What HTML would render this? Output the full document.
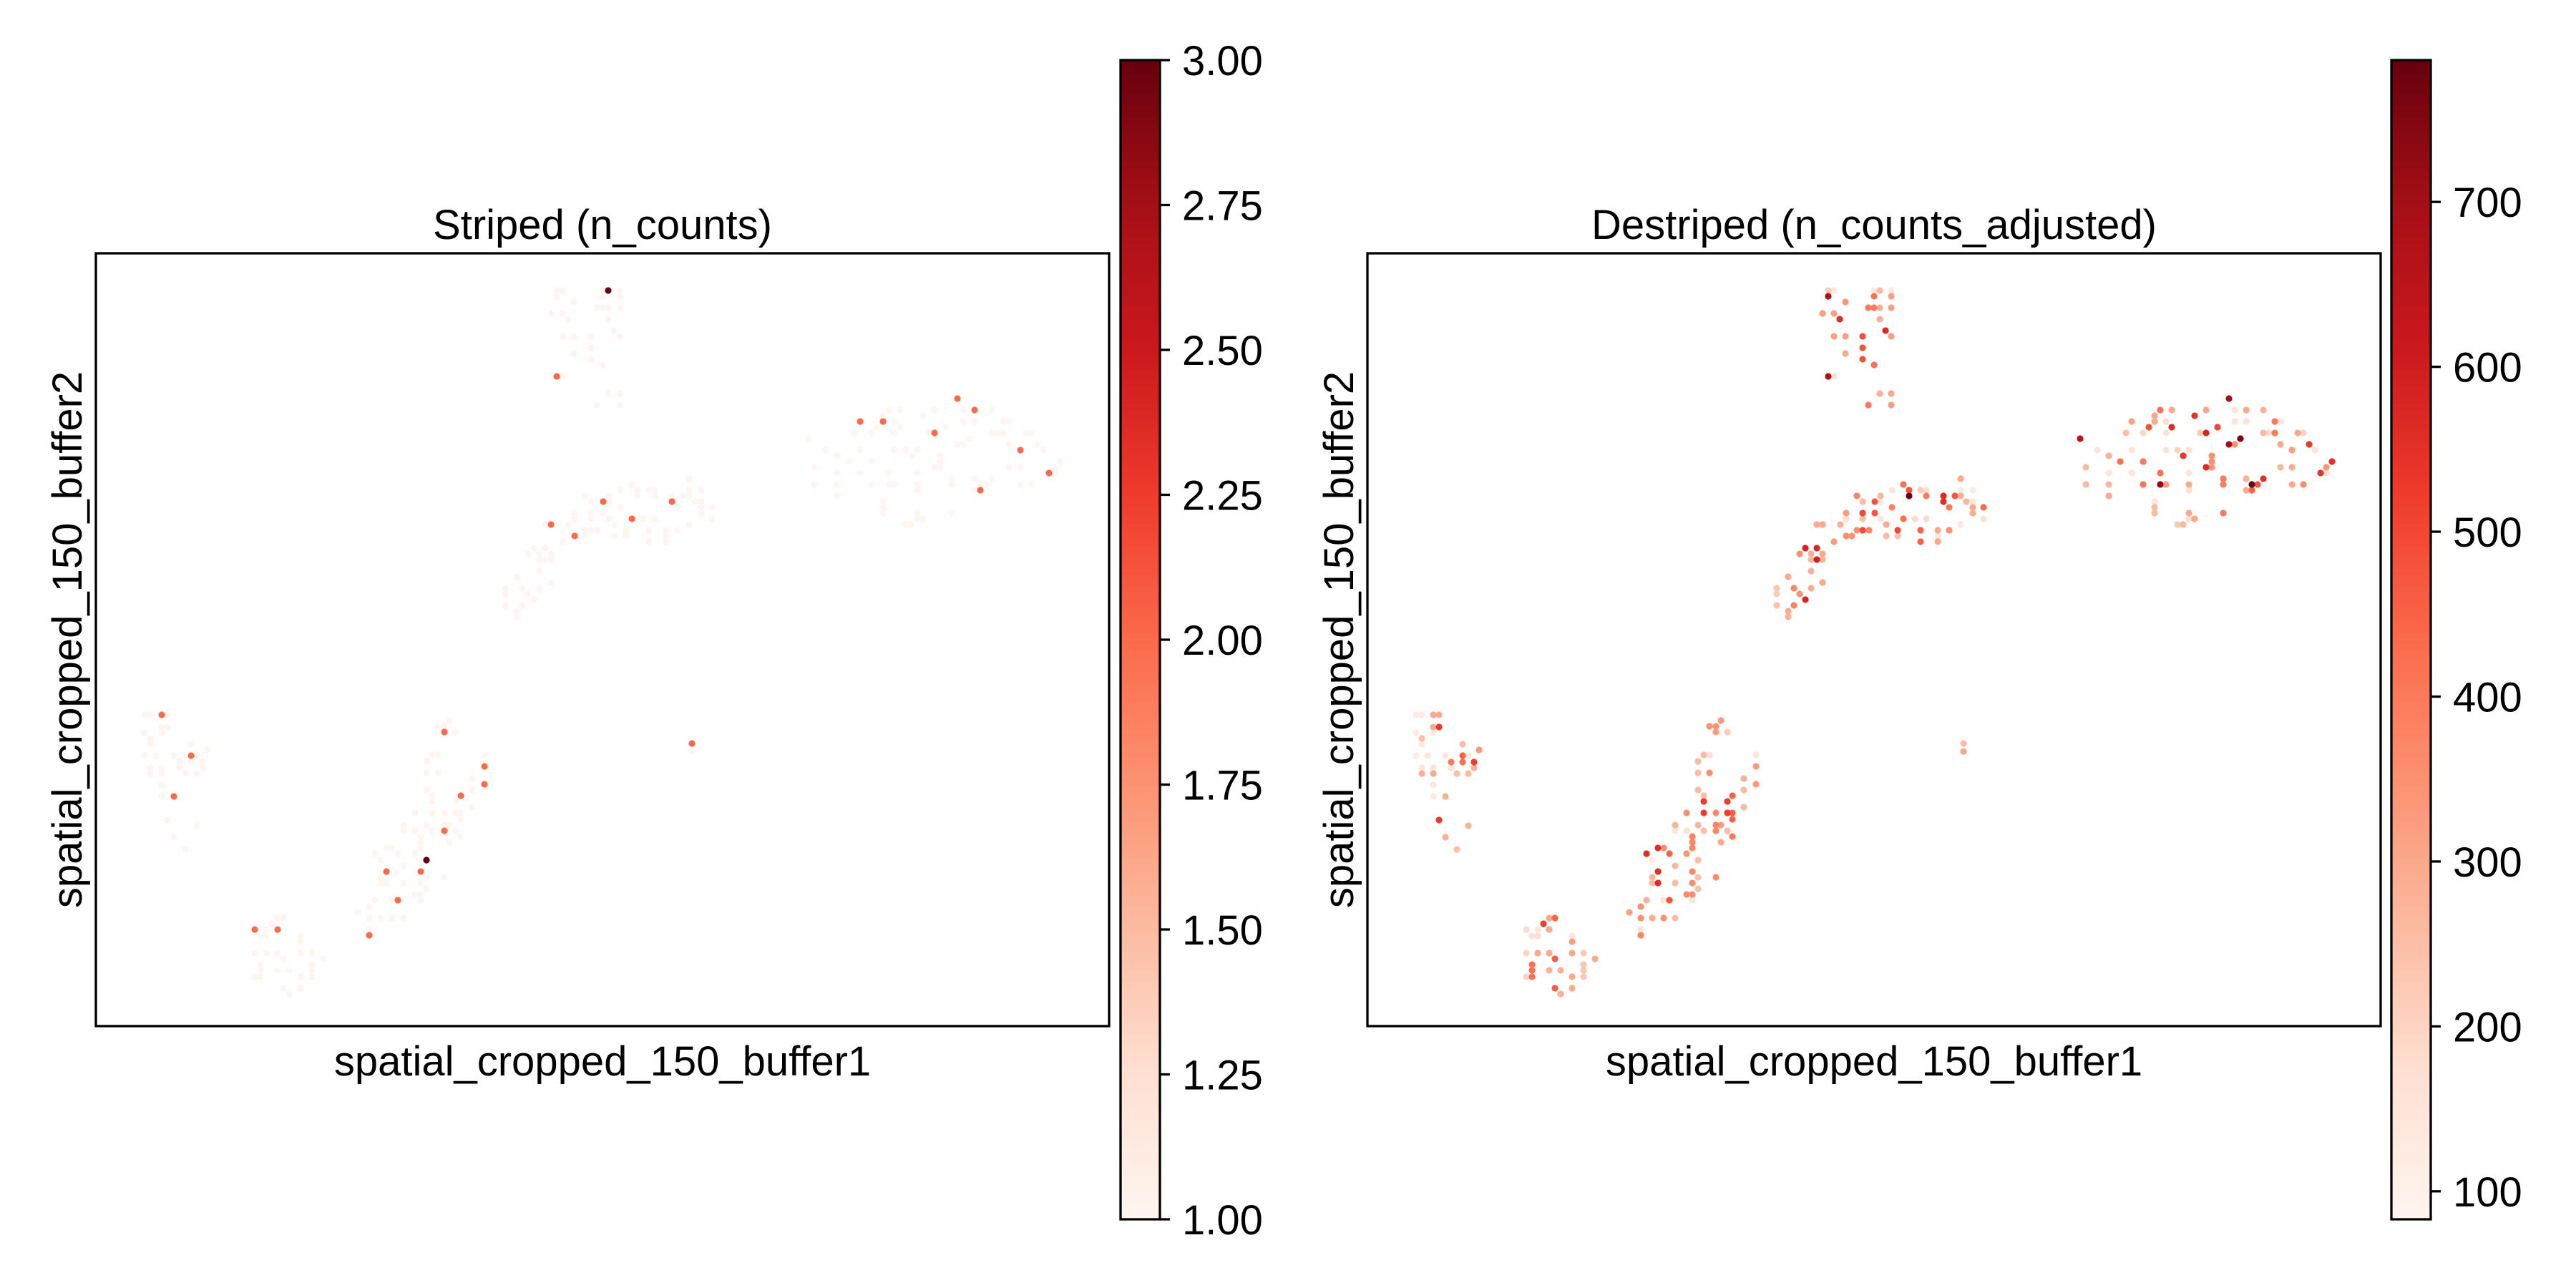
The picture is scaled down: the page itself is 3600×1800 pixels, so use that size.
<!DOCTYPE html>
<html><head><meta charset="utf-8">
<style>
html,body{margin:0;padding:0;background:#fff;}
svg{display:block;font-family:"Liberation Sans",Arial,sans-serif;}
</style></head>
<body>
<svg id="fig" width="3600" height="1800" viewBox="0 0 3600 1800" xmlns="http://www.w3.org/2000/svg">
<defs>
<linearGradient id="reds" x1="0" y1="1" x2="0" y2="0">
<stop offset="0" stop-color="#fff5f0"/><stop offset="0.125" stop-color="#fee0d2"/><stop offset="0.25" stop-color="#fcbba1"/><stop offset="0.375" stop-color="#fc9272"/><stop offset="0.5" stop-color="#fb6a4a"/><stop offset="0.625" stop-color="#ef3b2c"/><stop offset="0.75" stop-color="#cb181d"/><stop offset="0.875" stop-color="#a50f15"/><stop offset="1" stop-color="#67000d"/>
</linearGradient>
</defs>
<g id="left-panel"></g>
<g id="right-panel"></g>
</svg>
<script>
// spot tuples: [x, y, n_counts_adjusted, n_counts]
const clusterA = [[67,442,130,1],[75,442,130,1],[91,442,300,2],[99,442,300,1],[91,425,300,1],[99,425,530,1],[67,417,130,1],[91,417,130,1],[75,409,250,1],[75,401,130,1],[132,401,250,1],[155,393,330,1],[67,385,130,1],[83,385,150,1],[108,385,140,1],[132,385,450,2],[140,385,140,1],[116,376,400,1],[132,376,420,1],[148,376,520,1],[75,368,150,1],[91,368,150,1],[116,368,160,1],[148,368,280,1],[75,360,280,1],[91,360,300,1],[124,360,250,1],[140,360,260,1],[91,344,140,1],[91,328,130,1],[108,328,280,2],[99,295,530,1],[140,287,270,1],[108,271,280,1],[124,254,250,1]];
const clusterB = [[253,158,300,1],[261,158,450,1],[245,150,520,1],[221,142,180,2],[237,142,150,1],[253,142,300,2],[229,133,170,1],[237,133,170,1],[285,133,150,1],[285,125,320,1],[221,109,200,1],[237,109,300,1],[253,109,300,1],[285,109,300,1],[301,109,220,1],[317,101,290,1],[261,101,460,1],[229,93,420,1],[301,93,230,1],[229,85,420,1],[253,85,280,1],[269,85,280,1],[301,85,230,1],[221,76,200,1],[229,76,420,1],[285,76,300,1],[301,76,230,1],[261,60,460,1],[285,60,300,1],[269,52,280,1]];
const clusterC = [[493,434,330,1],[477,426,340,1],[486,426,340,1],[486,418,330,2],[502,418,220,1],[469,386,260,1],[477,386,170,1],[542,386,150,1],[461,377,260,1],[542,370,330,2],[461,361,260,1],[477,361,350,1],[525,353,280,1],[542,345,330,2],[461,337,260,1],[525,337,260,1],[469,329,250,1],[509,329,450,2],[469,321,520,1],[502,321,520,1],[525,313,260,1],[445,305,350,1],[469,305,520,1],[486,305,370,1],[502,305,520,1],[509,305,450,1],[509,296,450,1],[429,288,270,1],[461,288,270,1],[486,288,380,1],[493,288,320,1],[429,280,150,1],[445,280,160,1],[469,280,250,1],[486,280,370,2],[502,280,250,1],[453,272,380,1],[509,272,400,1],[453,264,370,1],[493,264,300,1],[405,256,560,1],[413,256,360,1],[453,256,370,1],[389,248,560,1],[421,248,450,1],[445,248,340,1],[397,239,120,1],[461,239,250,3],[429,231,260,1],[405,223,550,2],[453,223,370,2],[397,215,270,1],[461,215,250,1],[486,215,360,1],[397,207,260,1],[405,207,560,1],[429,207,250,1],[453,207,360,1],[461,199,250,1],[445,191,360,1],[453,191,360,1],[389,183,280,1],[413,183,160,1],[421,183,480,2],[453,183,150,1],[381,174,350,1],[365,166,310,1],[381,158,350,1],[397,158,290,1],[413,158,350,1],[429,158,250,1],[381,142,160,1],[381,134,370,2]];
const clusterD = [[643,1035,220,1],[651,1035,140,1],[707,1035,140,1],[715,1035,260,3],[731,1035,130,1],[643,1027,680,1],[707,1027,420,1],[731,1027,320,1],[667,1019,330,1],[699,1011,400,1],[707,1011,400,1],[715,1011,290,1],[731,1011,320,1],[635,1003,320,1],[651,1003,320,1],[659,995,560,1],[715,995,280,1],[723,979,570,1],[651,971,320,1],[667,971,320,1],[691,971,480,1],[731,971,320,1],[691,955,480,1],[667,947,300,1],[691,939,480,1],[707,931,420,1],[643,915,680,2],[651,915,150,1],[715,891,280,1],[731,891,300,1],[699,875,400,1],[731,875,320,1]];
const clusterE = [[828,772,300,1],[748,764,420,1],[732,756,150,1],[756,756,480,1],[772,756,220,1],[780,756,170,1],[828,756,130,1],[845,756,130,1],[683,748,380,1],[716,748,270,1],[756,748,780,1],[780,748,400,1],[804,748,560,1],[820,748,470,1],[828,748,280,1],[691,740,260,1],[708,740,480,2],[716,740,140,1],[804,740,560,2],[836,740,270,1],[845,740,150,1],[732,732,380,1],[812,732,400,1],[845,732,300,1],[860,732,430,1],[668,724,320,1],[691,724,500,1],[708,724,470,1],[845,724,290,1],[668,716,170,1],[691,716,250,1],[716,716,140,1],[748,716,420,2],[764,716,180,1],[780,716,180,1],[860,716,170,1],[627,708,300,1],[635,708,300,2],[660,708,280,1],[724,708,290,1],[828,708,140,1],[683,700,350,1],[691,700,490,1],[700,700,380,1],[740,700,500,1],[772,700,450,1],[796,700,300,1],[812,700,350,1],[668,692,350,2],[676,692,350,1],[724,692,260,1],[740,692,240,1],[796,692,150,1],[651,684,330,1],[772,684,450,1],[796,684,300,1],[611,675,580,1],[627,675,580,1],[603,667,350,1],[619,667,280,1],[635,667,300,1],[619,659,270,1],[627,659,590,1],[635,659,280,1],[619,643,280,1],[587,635,300,1],[635,627,300,1],[571,619,230,1],[595,619,370,1],[619,619,290,1],[571,611,220,1],[603,611,340,1],[611,603,580,1],[571,595,240,1],[595,595,380,1],[587,587,290,1],[587,579,280,1]];
const clusterF = [[1203,884,690,2],[1107,868,420,1],[1123,868,300,1],[1171,868,300,1],[1211,868,160,1],[1227,868,300,2],[1251,868,280,1],[1099,860,300,1],[1155,860,540,1],[1067,852,310,2],[1099,852,300,2],[1115,852,170,1],[1211,852,160,1],[1227,852,160,1],[1267,852,400,1],[1275,852,150,1],[1091,844,480,1],[1123,844,560,1],[1187,844,500,1],[1059,836,250,1],[1083,836,190,1],[1115,836,160,1],[1163,836,230,1],[1171,836,580,2],[1251,836,260,1],[1259,836,180,1],[1267,836,400,1],[1299,836,300,1],[1307,836,200,1],[995,828,640,1],[1219,828,760,1],[1203,820,700,1],[1211,820,350,1],[1275,820,300,1],[1315,820,530,1],[1019,812,150,1],[1067,812,150,1],[1115,812,160,1],[1131,812,200,1],[1147,812,160,1],[1291,812,320,2],[1323,812,160,1],[1035,804,280,1],[1139,804,530,1],[1179,804,350,1],[1051,796,420,1],[1083,796,400,1],[1179,796,350,1],[1347,796,550,1],[1003,788,260,1],[1171,788,560,1],[1179,788,340,1],[1275,788,270,1],[1291,788,300,1],[1339,788,340,1],[1035,780,150,1],[1067,780,150,1],[1107,780,420,1],[1147,780,150,1],[1331,780,540,2],[1339,780,170,1],[1195,772,400,1],[1227,772,280,1],[1251,772,550,1],[1003,764,260,1],[1035,764,270,1],[1083,764,410,1],[1107,764,720,1],[1115,764,320,1],[1147,764,290,1],[1195,764,400,1],[1235,764,780,1],[1243,764,480,1],[1291,764,300,1],[1307,764,360,1],[1147,756,170,1],[1227,756,290,1],[1235,756,450,2],[1035,748,300,1],[1099,740,150,1],[1099,732,260,1],[1099,724,260,1],[1147,724,300,1],[1195,724,400,1],[1147,716,180,1],[1155,716,300,1],[1131,708,230,1],[1139,708,260,1]];
const clusterG = [[832,402,250,2],[832,391,300,1]];
const leftTicks = [1.00,1.25,1.50,1.75,2.00,2.25,2.50,2.75,3.00];
const leftTickLabels = ["1.00","1.25","1.50","1.75","2.00","2.25","2.50","2.75","3.00"];
const rightTicks = [100,200,300,400,500,600,700];
const rightTickLabels = ["100","200","300","400","500","600","700"];
const leftRange = [1,3];
const rightRange = [83,786];
const xDomain = [-1,1415];
const yDomain = [7,1087];

const NS='http://www.w3.org/2000/svg';
const stops=['#fff5f0','#fee0d2','#fcbba1','#fc9272','#fb6a4a','#ef3b2c','#cb181d','#a50f15','#67000d'];
function hex(h){return [parseInt(h.substr(1,2),16),parseInt(h.substr(3,2),16),parseInt(h.substr(5,2),16)];}
function reds(t){t=Math.max(0,Math.min(1,t));const s=t*8;const i=Math.min(7,Math.floor(s));const f=s-i;const a=hex(stops[i]),b=hex(stops[i+1]);
 return 'rgb('+a.map((v,k)=>Math.round(v+(b[k]-v)*f)).join(',')+')';}
function mk(tag,attrs,parent){const e=document.createElementNS(NS,tag);for(const k in attrs)e.setAttribute(k,attrs[k]);parent.appendChild(e);return e;}
const spots=[].concat(clusterA,clusterB,clusterC,clusterD,clusterE,clusterF,clusterG);

function panel(gid,ax,title,valIdx,range,ticks,tickLabels,cbX){
 const g=document.getElementById(gid);
 const AX=ax, AY=354, AW=1416, AH=1080;
 const sx=v=>AX+(v-xDomain[0])/(xDomain[1]-xDomain[0])*AW;
 const sy=v=>AY+AH-(v-yDomain[0])/(yDomain[1]-yDomain[0])*AH;
 const pts=spots.slice().sort((p,q)=>p[valIdx]-q[valIdx]);
 const pg=mk('g',{},g);
 
 
 for(const p of pts){
  const c=mk('circle',{cx:sx(p[0]).toFixed(1),cy:sy(p[1]).toFixed(1),r:4.6,fill:reds((p[valIdx]-range[0])/(range[1]-range[0]))},pg);
  
  
 }
 const fr=mk('rect',{x:AX,y:AY,width:AW,height:AH,fill:'none',stroke:'#000','stroke-width':3.3},g);
 
 
 const t=mk('text',{x:AX+AW/2,y:334,'font-size':58,'text-anchor':'middle',fill:'#000'},g);t.textContent=title;
 
 
 const xl=mk('text',{x:AX+AW/2,y:1503,'font-size':58,'text-anchor':'middle',fill:'#000'},g);xl.textContent='spatial_cropped_150_buffer1';
 
 
 const yl=mk('text',{x:0,y:0,'font-size':58,'text-anchor':'middle',fill:'#000',transform:'translate('+(AX-20)+','+(AY+AH/2)+') rotate(-90)'},g);yl.textContent='spatial_cropped_150_buffer2';
 
 
 // colorbar
 const CT=84, CB=1704, CW=55;
 const cb=mk('rect',{x:cbX,y:CT,width:CW,height:CB-CT,fill:'url(#reds)',stroke:'#000','stroke-width':3.3},g);
 
 
 const cy=v=>CB-(v-range[0])/(range[1]-range[0])*(CB-CT);
 ticks.forEach((v,i)=>{
  const y=cy(v);
  const l=mk('line',{x1:cbX+CW,x2:cbX+CW+14,y1:y,y2:y,stroke:'#000','stroke-width':3.3},g);
  
  
  const tx=mk('text',{x:cbX+CW+31,y:y+21,'font-size':58,fill:'#000'},g);tx.textContent=tickLabels[i];
  
  
 });
}
panel('left-panel',134,'Striped (n_counts)',3,leftRange,leftTicks,leftTickLabels,1566);
panel('right-panel',1911,'Destriped (n_counts_adjusted)',2,rightRange,rightTicks,rightTickLabels,3342);
</script>
</body></html>
